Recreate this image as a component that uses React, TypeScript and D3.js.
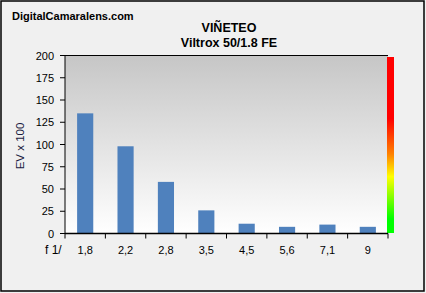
import React from "react";
import * as d3 from "d3";

const categories = ["1,8", "2,2", "2,8", "3,5", "4,5", "5,6", "7,1", "9"];
const values = [135, 98, 58, 26, 11, 7.5, 10, 7.5];
const yTicks = [0, 25, 50, 75, 100, 125, 150, 175, 200];

export default function App() {
  const W = 426, H = 293;
  const left = 65, right = 388, top = 55.5, bottom = 233.5;
  const x = d3.scaleBand<string>().domain(categories).range([left, right]).paddingInner(0.6).paddingOuter(0.3);
  const xb = d3.scaleBand<string>().domain(categories).range([left, right]);
  const y = d3.scaleLinear().domain([0, 200]).range([bottom, top]);
  const font = "Arial, 'Liberation Sans', sans-serif";
  return (
    <svg width={W} height={H} style={{ position: "absolute", left: 0, top: 0 }}>
      <defs>
        <linearGradient id="plotg" x1="0" y1="0" x2="0" y2="1">
          <stop offset="0" stopColor="#c6c6c6" />
          <stop offset="1" stopColor="#ffffff" />
        </linearGradient>
        <linearGradient id="cbar" x1="0" y1="0" x2="0" y2="1">
          <stop offset="0" stopColor="#ff0000" />
          <stop offset="0.35" stopColor="#ff0000" />
          <stop offset="0.55" stopColor="#ff8000" />
          <stop offset="0.68" stopColor="#ffff00" />
          <stop offset="0.92" stopColor="#00ff00" />
          <stop offset="1" stopColor="#00ff00" />
        </linearGradient>
      </defs>
      <rect x={0} y={0} width={W} height={H} fill="#f0f0f0" />
      <rect x={1} y={1} width={W - 3} height={H - 3} fill="none" stroke="#000" strokeWidth={1.5} />
      <text x={12} y={20} fontFamily={font} fontWeight="bold" fontSize={11} fill="#000">DigitalCamaralens.com</text>
      <text x={229} y={32} textAnchor="middle" fontFamily={font} fontWeight="bold" fontSize={12.5} fill="#000">VIÑETEO</text>
      <text x={229} y={47} textAnchor="middle" fontFamily={font} fontWeight="bold" fontSize={12.5} fill="#000">Viltrox 50/1.8 FE</text>
      <rect x={left} y={top} width={right - left} height={bottom - top} fill="url(#plotg)" />
      {values.map((v, i) => (
        <rect key={i} x={x(categories[i])!} width={x.bandwidth()} y={y(v)} height={y(0) - y(v)} fill="#4f81bd" />
      ))}
      <rect x={387} y={57} width={7} height={176} fill="url(#cbar)" />
      <line x1={left} x2={left} y1={top} y2={bottom} stroke="#000" strokeWidth={1} />
      <line x1={left} x2={right} y1={bottom} y2={bottom} stroke="#000" strokeWidth={1.5} />
      <line x1={left} x2={right} y1={top} y2={top} stroke="#000" strokeWidth={1} />
      {yTicks.map((t) => (
        <g key={t}>
          <line x1={left - 5} x2={left} y1={y(t)} y2={y(t)} stroke="#000" />
          <text x={54} y={y(t) + 4} textAnchor="end" fontFamily={font} fontSize={11} fill="#000">{t}</text>
        </g>
      ))}
      {categories.map((c) => (
        <line key={c} x1={xb(c)! + xb.bandwidth()} x2={xb(c)! + xb.bandwidth()} y1={bottom} y2={bottom + 5} stroke="#000" />
      ))}
      <line x1={left} x2={left} y1={bottom} y2={bottom + 5} stroke="#000" />
      {categories.map((c) => (
        <text key={c} x={xb(c)! + xb.bandwidth() / 2} y={254} textAnchor="middle" fontFamily={font} fontSize={11} fill="#000">{c}</text>
      ))}
      <text x={45} y={254} fontFamily={font} fontSize={12} fill="#000">f 1/</text>
      <text transform="translate(24,146) rotate(-90)" textAnchor="middle" fontFamily={font} fontSize={11.5} fill="#1a1a40">EV x 100</text>
    </svg>
  );
}
